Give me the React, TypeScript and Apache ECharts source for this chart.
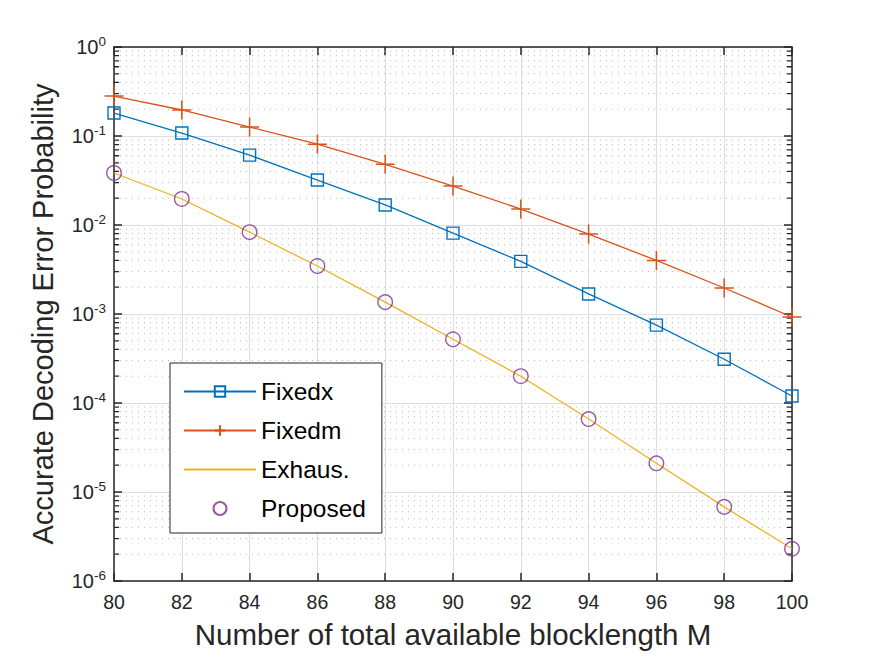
import React, { useEffect, useRef } from "react";
import * as echarts from "echarts";

const xValues = [80, 82, 84, 86, 88, 90, 92, 94, 96, 98, 100];
const fixedx = [0.181, 0.108, 0.061, 0.032, 0.0168, 0.0081, 0.0039, 0.00168, 0.00075, 0.00031, 0.00012];
const fixedm = [0.281, 0.196, 0.126, 0.081, 0.048, 0.0274, 0.0151, 0.0079, 0.0040, 0.00196, 0.000925];
const exhaus = [0.0384, 0.0196, 0.0083, 0.00346, 0.00136, 0.00052, 0.0002, 0.000066, 0.000021, 0.0000068, 0.0000023];
const proposed = [0.0384, 0.0196, 0.0083, 0.00346, 0.00136, 0.00052, 0.0002, 0.000066, 0.000021, 0.0000068, 0.0000023];
const seriesNames = ["Fixedx", "Fixedm", "Exhaus.", "Proposed"];
const xTitle = "Number of total available blocklength M";
const yTitle = "Accurate Decoding Error Probability";
const decadeExponents = [-6, -5, -4, -3, -2, -1];
const minorMultipliers = [2, 3, 4, 5, 6, 7, 8, 9];

const FONT = "'Liberation Sans', Arial, Helvetica, sans-serif";
const AXIS_COLOR = "#262626";

function pairs(ys: number[]) {
  return xValues.map((x, i) => [x, ys[i]]);
}

export default function App() {
  const ref = useRef<HTMLDivElement>(null);
  useEffect(() => {
    if (!ref.current) return;
    const chart = echarts.init(ref.current, undefined, { renderer: "svg" });

    const minorVals: number[] = [];
    decadeExponents.forEach((k) =>
      minorMultipliers.forEach((m) => minorVals.push(m * Math.pow(10, k)))
    );
    const gridData: any[] = [];
    const tickData: any[] = [];
    minorVals.forEach((v) => {
      gridData.push([80, v], [100, v], [90, "-"]);
      tickData.push([80, v], [80.15, v], [90, "-"], [99.85, v], [100, v], [90, "-"]);
    });

    const plus = "path://M5,0 L5,10 M0,5 L10,5";

    chart.setOption({
      animation: false,
      backgroundColor: "#fff",
      textStyle: { fontFamily: FONT },
      grid: { left: 114, right: 83, top: 47, bottom: 83, containLabel: false },
      legend: {
        data: [
          "Fixedx",
          "Fixedm",
          { name: "Exhaus.", itemStyle: { opacity: 0 } },
          "Proposed",
        ],
        orient: "vertical",
        left: 170,
        top: 363,
        padding: [16, 16, 12, 13],
        itemGap: 14,
        itemWidth: 72,
        itemHeight: 13,
        backgroundColor: "#fff",
        borderColor: "#262626",
        borderWidth: 1,
        textStyle: { fontSize: 24.5, color: "#000", fontFamily: FONT },
      },
      xAxis: [
        {
          type: "value",
          min: 80,
          max: 100,
          interval: 2,
          name: xTitle,
          nameLocation: "middle",
          nameGap: 38,
          nameTextStyle: { fontSize: 29.5, color: AXIS_COLOR, fontFamily: FONT },
          axisLine: { show: true, lineStyle: { color: AXIS_COLOR, width: 1.5 } },
          axisTick: { show: true, inside: true, length: 8, lineStyle: { color: AXIS_COLOR, width: 1.5 } },
          axisLabel: { fontSize: 19.5, color: AXIS_COLOR, margin: 11, fontFamily: FONT },
          splitLine: { show: true, lineStyle: { color: "#dedede", width: 1 } },
        },
        {
          type: "value",
          position: "top",
          min: 80,
          max: 100,
          interval: 2,
          axisLine: { show: true, lineStyle: { color: AXIS_COLOR, width: 1.5 } },
          axisTick: { show: true, inside: true, length: 8, lineStyle: { color: AXIS_COLOR, width: 1.5 } },
          axisLabel: { show: false },
          splitLine: { show: false },
        },
      ],
      yAxis: [
        {
          type: "log",
          logBase: 10,
          min: 1e-6,
          max: 1,
          name: yTitle,
          nameLocation: "middle",
          nameGap: 57,
          nameTextStyle: { fontSize: 29, color: AXIS_COLOR, fontFamily: FONT },
          axisLine: { show: true, lineStyle: { color: AXIS_COLOR, width: 1.5 } },
          axisTick: { show: true, inside: true, length: 8, lineStyle: { color: AXIS_COLOR, width: 1.5 } },
          axisLabel: {
            color: AXIS_COLOR,
            margin: 8,
            formatter: (v: number) => "10{sup|" + Math.round(Math.log10(v)) + "}",
            rich: {
              sup: { fontSize: 13.5, padding: [0, 0, 12, 0], color: AXIS_COLOR, fontFamily: FONT },
            },
            fontSize: 20,
            fontFamily: FONT,
          },
          splitLine: { show: true, lineStyle: { color: "#dedede", width: 1 } },
        },
        {
          type: "log",
          logBase: 10,
          min: 1e-6,
          max: 1,
          position: "right",
          axisLine: { show: true, lineStyle: { color: AXIS_COLOR, width: 1.5 } },
          axisTick: { show: true, inside: true, length: 8, lineStyle: { color: AXIS_COLOR, width: 1.5 } },
          axisLabel: { show: false },
          splitLine: { show: false },
        },
      ],
      series: [
        {
          name: "__minorGrid",
          type: "line",
          data: gridData,
          silent: true,
          symbol: "none",
          connectNulls: false,
          z: 1,
          lineStyle: { color: "#b8b8b8", type: [1, 5], width: 1 },
        },
        {
          name: "__minorTicks",
          type: "line",
          data: tickData,
          silent: true,
          symbol: "none",
          connectNulls: false,
          z: 3,
          lineStyle: { color: AXIS_COLOR, type: "solid", width: 1.3 },
        },
        {
          name: "Fixedx",
          type: "line",
          data: pairs(fixedx),
          symbol: "rect",
          symbolSize: 12,
          lineStyle: { color: "#0072BD", width: 1.3 },
          itemStyle: { color: "rgba(255,255,255,0)", borderColor: "#0072BD", borderWidth: 1.4 },
          z: 5,
        },
        {
          name: "Fixedm",
          type: "line",
          data: pairs(fixedm),
          symbol: plus,
          symbolSize: 19,
          lineStyle: { color: "#D95319", width: 1.3 },
          itemStyle: { color: "rgba(255,255,255,0)", borderColor: "#D95319", borderWidth: 1.5 },
          z: 5,
        },
        {
          name: "Exhaus.",
          type: "line",
          data: pairs(exhaus),
          symbol: "none",
          showSymbol: false,
          lineStyle: { color: "#EDB120", width: 1.3 },
          itemStyle: { color: "#EDB120" },
          z: 4,
        },
        {
          name: "Proposed",
          type: "scatter",
          data: pairs(proposed),
          symbol: "circle",
          symbolSize: 14.5,
          itemStyle: { color: "rgba(255,255,255,0)", borderColor: "#7E2F8E", borderWidth: 1.4 },
          z: 6,
        },
      ],
    });
    return () => chart.dispose();
  }, []);
  return <div ref={ref} style={{ width: 875, height: 664, margin: -8 }} />;
}
